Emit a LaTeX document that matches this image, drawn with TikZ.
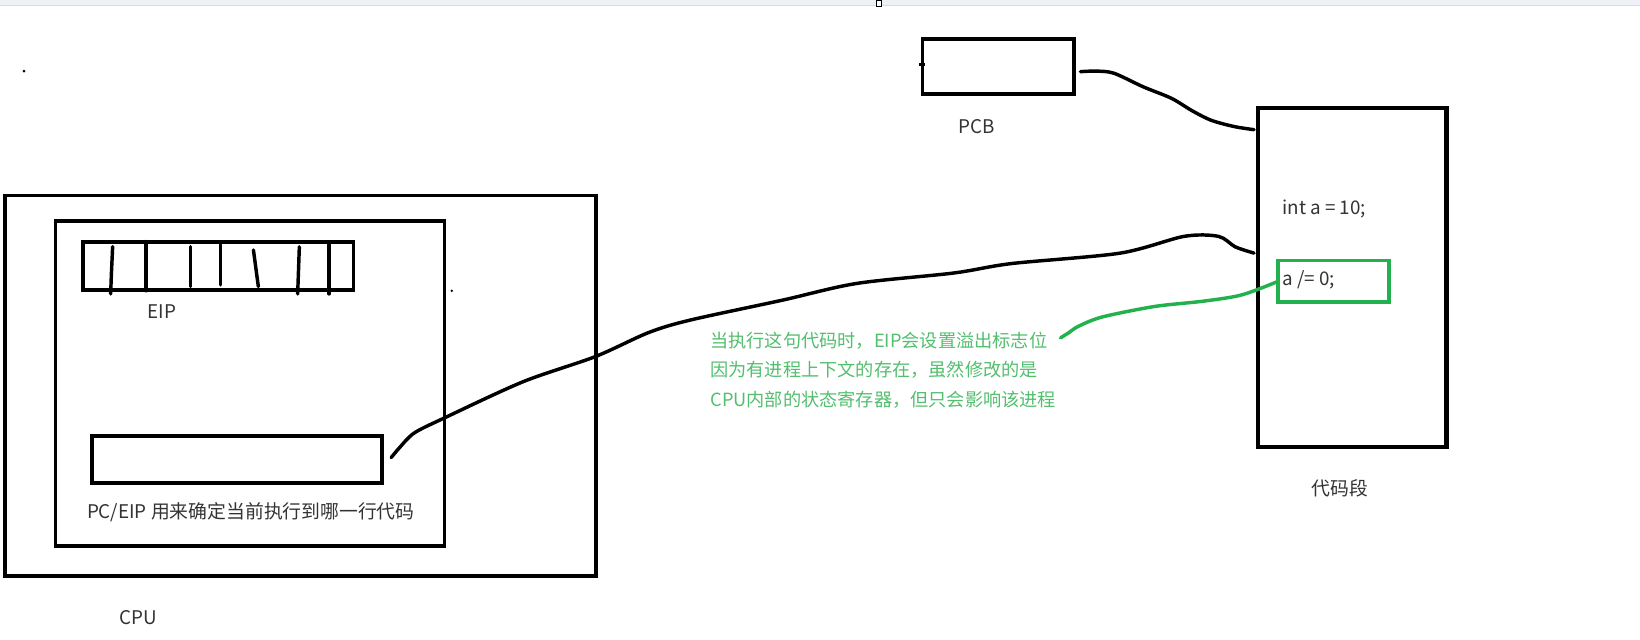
\documentclass[tikz,border=0pt]{standalone}
\usepackage{fontspec}
\setmainfont{Noto Sans CJK SC}
\usetikzlibrary{calc}
\definecolor{txtgray}{RGB}{51,51,51}
\definecolor{grntxt}{RGB}{82,190,110}
\definecolor{grnline}{RGB}{34,177,76}
\definecolor{barbg}{RGB}{238,242,247}
\definecolor{barline}{RGB}{214,219,226}
\tikzset{
  box/.style={draw=black, line width=3.6pt, inner sep=0pt, outer sep=0pt},
  gbox/.style={draw=grnline, line width=3.6pt, inner sep=0pt, outer sep=0pt},
  lbl/.style={text=txtgray, font=\fontsize{18}{28.5}\selectfont, inner sep=0pt},
  glbl/.style={text=grntxt, font=\fontsize{17.4}{28.5}\selectfont, inner sep=0pt, align=left},
  curve/.style={draw=black, line width=3.3pt, line cap=round, line join=round},
  gcurve/.style={draw=grnline, line width=3.3pt, line cap=round, line join=round},
  divider/.style={draw=black, line width=3.3pt, line cap=round},
}
\begin{document}
\begin{tikzpicture}[x=1pt,y=-1pt]
\useasboundingbox (0,0) rectangle (1568,611);
% top bar
\fill[barbg] (0,0) rectangle (1568,5);
\draw[barline, line width=1pt] (0,5) -- (1568,5);
\draw[black, line width=0.8pt, fill=white] (838,0) rectangle (843,6);
% boxes
\node[box, minimum width=565pt, minimum height=364pt] (cpu) at (287.5,369) {};
\node[box, minimum width=372pt, minimum height=311pt] (inner) at (239,366.5) {};
\node[box, minimum width=259pt, minimum height=46pt] (reg) at (208.5,254.5) {};
\node[box, minimum width=277pt, minimum height=45pt] (pc) at (226.5,439.5) {};
\node[box, minimum width=145pt, minimum height=53pt] (pcb) at (954.5,63.5) {};
\node[box, line width=4pt, minimum width=180pt, minimum height=324pt] (code) at (1293,265) {};
\node[gbox, minimum width=106pt, minimum height=40pt] (stmt) at (1275,269) {};
% register dividers
\draw[divider] (107.7,235.8) -- (106.5,262) -- (105.8,281);
\draw[divider] (139.6,231) -- (139.6,278);
\draw[divider] (182.3,235.8) -- (182.3,274);
\draw[divider] (211,234) -- (211,272.4);
\draw[divider] (242.3,239) -- (247,274);
\draw[divider] (286.2,236) -- (284.6,281);
\draw[divider] (314.7,234) -- (314.7,281);
% small marks
\fill[black] (23,68) circle (1.4pt);
\fill[black] (432,278) circle (1.3pt);
\draw[black, line width=2.2pt] (571,216) -- (571,222);
\draw[black, line width=2.6pt] (879,61.5) -- (884,61.5);
% labels
\node[lbl] (eiplbl) at (155,298) {EIP};
\node[lbl, anchor=west] (pclbl) at (83,490) {PC/EIP 用来确定当前执行到哪一行代码};
\node[lbl] (cpulbl) at (132,590) {CPU};
\node[lbl] (pcblbl) at (934,121) {PCB};
\node[lbl, anchor=west] (l1) at (1226,200) {int a = 10;};
\node[lbl, anchor=west] (l2) at (1226,268) {a /= 0;};
\node[lbl] (codelbl) at (1281,467) {代码段};
\node[glbl, anchor=west] (note) at (679,354) {当执行这句代码时，EIP会设置溢出标志位\\因为有进程上下文的存在，虽然修改的是\\CPU内部的状态寄存器，但只会影响该进程};
% connectors
\coordinate (pcbend) at ($(pcb.east)+(6,5)$);
\coordinate (codetop) at ($(code.west)+(-4,-141)$);
\draw[curve] plot[smooth, tension=0.5] coordinates {(pcbend) (1048,68) (1065,70) (1093,83) (1120,94) (1140,106) (1158,115) (1180,121) (codetop)};
\coordinate (pcend) at ($(pc.east)+(9,-2)$);
\coordinate (codemid) at ($(code.west)+(-4,-23)$);
\draw[curve] plot[smooth, tension=0.5] coordinates {(pcend) (382,428) (396,414) (424,400) (500,365) (569,341) (620,318) (660,306) (748,287) (819,271) (912,261) (967,252) (1071,242) (1132,226) (1165,226) (1181,236) (codemid)};
\coordinate (noteend) at (1014,323);
\draw[gcurve] plot[smooth, tension=0.5] coordinates {(noteend) (1022,318) (1031,312) (1054,303) (1104,293) (1150,288) (1187,282) (stmt.west)};
\end{tikzpicture}
\end{document}
